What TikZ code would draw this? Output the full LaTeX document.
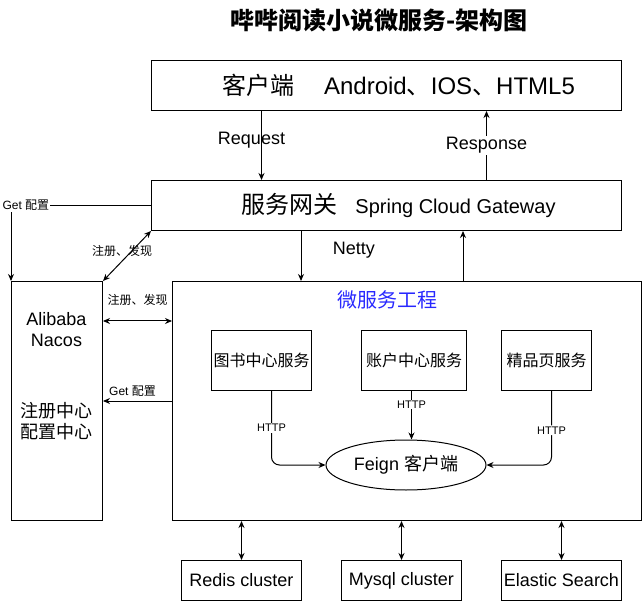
\documentclass[tikz,border=0pt]{standalone}
\usepackage{fontspec}
\setmainfont{Liberation Sans}
\newfontfamily\cjk{Noto Sans CJK SC}
\usetikzlibrary{arrows.meta,shapes.geometric}

\tikzset{
	box/.style 2 args = {draw, anchor = north west, inner sep = 0pt, minimum width = #1, minimum height = #2},
	lbl/.style = {fill = white, inner sep = 1pt},
	big/.style = {font = \fontsize{24}{24}\selectfont},
	mid/.style = {font = \fontsize{18}{21}\selectfont},
	small/.style = {font = \fontsize{16}{18}\selectfont},
	tiny/.style = {font = \fontsize{12}{12}\selectfont},
	http/.style = {font = \fontsize{11}{11}\selectfont, lbl},
}

\begin{document}
\begin{tikzpicture}[x = 1pt, y = -1pt, line width = 1pt, >={Stealth[length=7pt,width=6pt]}]
		\def\topwidth{470pt}
		\def\topheight{50pt}
		\def\sideheight{239pt}
		\def\servheight{60pt}
		\def\storewidth{120pt}
		\def\storeheight{40pt}
		
		\useasboundingbox (0,0) rectangle (642,601);
		
		\coordinate (RequestX) at (261.5,0);
		\coordinate (ResponseX) at (486.5,0);
		\coordinate (NettyX) at (301,0);
		\coordinate (ReturnX) at (463,0);
		\coordinate (RegY) at (0,321);
		\coordinate (GetY) at (0,401);
		\coordinate (BookX) at (271.5,0);
		\coordinate (AccountX) at (411.5,0);
		\coordinate (PremiumX) at (551.5,0);
		
		\node[font = \fontsize{24}{24}\selectfont\cjk\bfseries] (Title) at (379,20) {哔哔阅读小说微服务-架构图};
		
		\node[box = {\topwidth}{\topheight}, big] (Client) at (151,60) {\hspace*{24pt}{\cjk 客户端}\hspace{30pt}Android{\cjk 、}IOS{\cjk 、}HTML5};
		\node[box = {\topwidth}{\topheight}, big] (Gateway) at (151,180) {\hspace*{24pt}{\cjk 服务网关}\hspace{18pt}{\fontsize{20}{20}\selectfont Spring Cloud Gateway}};
		
		\node[box = {91pt}{\sideheight}] (Nacos) at (11,281) {};
		\node[mid, align = center] (NacosName) at (56.5,330) {Alibaba\\Nacos};
		\node[mid, align = center, font = \fontsize{18}{21}\selectfont\cjk] (NacosRole) at (56.5,421) {注册中心\\配置中心};
		
		\node[box = {469pt}{\sideheight}] (Micro) at (172,281) {};
		\node[font = \fontsize{20}{20}\selectfont\cjk, text = {rgb,255:red,40;green,40;blue,255}] (MicroTitle) at (387,300) {微服务工程};
		
		\node[box = {100pt}{\servheight}, small, font = \fontsize{16}{18}\selectfont\cjk] (Book) at (211,330) {图书中心服务};
		\node[box = {105pt}{\servheight}, small, font = \fontsize{16}{18}\selectfont\cjk] (Account) at (361,330) {账户中心服务};
		\node[box = {90pt}{\servheight}, small, font = \fontsize{16}{18}\selectfont\cjk] (Premium) at (501,330) {精品页服务};
		\node[draw, ellipse, minimum width = 160pt, minimum height = 50pt, inner sep = 0pt, mid] (Feign) at (406,465) {Feign {\cjk 客户端}};
		
		\node[box = {\storewidth}{\storeheight}, mid] (Redis) at (181,560) {Redis cluster};
		\node[box = {\storewidth}{\storeheight}, mid] (Mysql) at (341,560) {Mysql cluster};
		\node[box = {\storewidth}{\storeheight}, mid] (Elastic) at (501,560) {Elastic Search};
		
		% client and gateway
		\draw[->] (RequestX |- Client.south) -- (RequestX |- Gateway.north) node[pos = .43, xshift = -10pt, mid] {Request};
		\draw[->] (ResponseX |- Gateway.north) -- (ResponseX |- Client.south) node[pos = .5, lbl, mid] {Response};
		\draw[->] (NettyX |- Gateway.south) -- (NettyX |- Micro.north) node[pos = .39, anchor = west, xshift = 28pt, mid] {Netty};
		\draw[->] (ReturnX |- Micro.north) -- (ReturnX |- Gateway.south);
		
		% nacos
		\draw[->] (Gateway.west) -- (Nacos.north west |- Gateway.west) node[lbl, tiny, anchor = west, xshift = -10pt] {Get {\cjk 配置}} -- (Nacos.north west);
		\draw[<->] (Nacos.north east) -- (Gateway.south west) node[midway, xshift = -5pt, yshift = 5.5pt, tiny, font = \fontsize{12}{12}\selectfont\cjk] {注册、发现};
		\draw[<->] (Nacos.east |- RegY) -- (Micro.west |- RegY) node[midway, yshift = 21pt, font = \fontsize{12}{12}\selectfont\cjk] {注册、发现};
		\draw[->] (Micro.west |- GetY) -- (Nacos.east |- GetY) node[midway, xshift = -5pt, yshift = 10pt, tiny] {Get {\cjk 配置}};
		
		% services to feign
		\draw[->, rounded corners = 8pt] (BookX |- Book.south) -- node[http] {HTTP} (BookX |- Feign.west) -- (Feign.west);
		\draw[->] (AccountX |- Account.south) -- (AccountX |- Feign.north) node[pos = .28, http] {HTTP};
		\draw[->, rounded corners = 8pt] (PremiumX |- Premium.south) -- node[pos = .53, http] {HTTP} (PremiumX |- Feign.east) -- (Feign.east);
		
		% storage
		\draw[<->] (Redis.north) -- (Redis.north |- Micro.south);
		\draw[<->] (Mysql.north) -- (Mysql.north |- Micro.south);
		\draw[<->] (Elastic.north) -- (Elastic.north |- Micro.south);
	\end{tikzpicture}
\end{document}
